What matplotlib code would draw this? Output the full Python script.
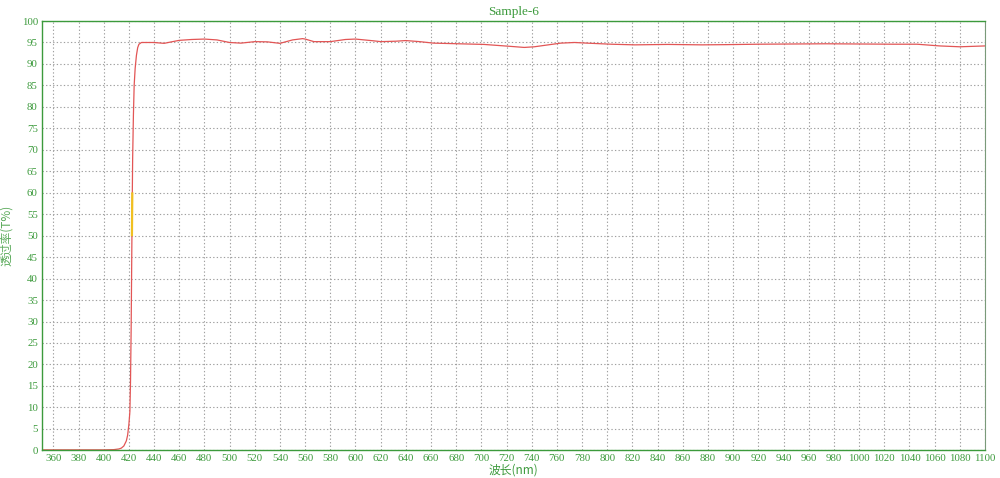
import numpy as np
import matplotlib
matplotlib.use("Agg")
import matplotlib.pyplot as plt

# wavelength (nm) / transmittance (%)
wavelength = [350, 380, 400, 408, 412, 414, 416, 418, 419, 420, 420.8, 421.3,
              421.8, 422.2, 422.6, 423.0, 423.6, 424.2, 425.0, 426.0, 427.0,
              428.0, 430.0, 434, 440, 448, 453, 460, 470, 480, 490, 500, 509,
              520, 530, 540, 550, 558, 560, 567, 580, 592, 600, 614, 620, 632,
              640, 651, 662, 682, 702, 723, 734, 742, 763, 774, 784, 803, 822,
              848, 875, 894, 920, 974, 1027, 1046, 1064, 1080, 1100]
transmit = [0.1, 0.1, 0.1, 0.15, 0.3, 0.5, 1.0, 2.2, 3.5, 6.0, 9.0, 16.0,
            28.0, 42.0, 56.0, 68.0, 78.0, 85.0, 89.0, 92.0, 93.8,
            94.6, 95.0, 95.0, 95.0, 94.8, 95.1, 95.5, 95.7, 95.8, 95.6, 95.0, 94.85,
            95.2, 95.15, 94.8, 95.6, 95.9, 95.8, 95.2, 95.2, 95.7, 95.8, 95.4, 95.2, 95.3,
            95.45, 95.2, 94.85, 94.7, 94.55, 94.1, 93.85, 94.0, 94.85, 95.0, 94.85, 94.6, 94.45,
            94.55, 94.45, 94.5, 94.6, 94.7, 94.6, 94.6, 94.2, 94.0, 94.2]
highlight_band = [50, 60]

x_ticks = list(range(360, 1101, 20))
y_ticks = list(range(0, 101, 5))

green = "#3c9a3c"
cjk = ["Noto Sans CJK SC", "DejaVu Sans"]

fig = plt.figure(figsize=(10, 4.78), dpi=100)
ax = fig.add_axes([0.042, 0.058, 0.943, 0.898])

x = np.array(wavelength)
y = np.array(transmit)
ax.plot(x, y, color="#e25555", lw=0.9)

# short yellow stretch of the curve between 50 and 60 %
xs = np.linspace(x[10], x[16], 200)
ys = np.interp(xs, x, y)
m = (ys >= highlight_band[0]) & (ys <= highlight_band[1])
ax.plot(xs[m], ys[m], color="#f0c020", lw=1.6)

ax.set_xlim(351, 1100)
ax.set_ylim(0, 100)
ax.set_xticks(x_ticks)
ax.set_yticks(y_ticks)
ax.tick_params(length=0, labelsize=7.8, labelcolor=green, pad=3)
for lab in ax.get_xticklabels() + ax.get_yticklabels():
    lab.set_family("Liberation Serif")

ax.grid(True, color="#a0a0a0", linestyle=(0, (1.2, 2)), lw=0.8)
for side in ["left", "bottom", "top"]:
    ax.spines[side].set_color(green)
    ax.spines[side].set_linewidth(1.0)
ax.spines["right"].set_color("#7a9a7a")

ax.set_title("Sample-6", color=green, fontsize=9.5, family="Liberation Serif", pad=4)
ax.set_xlabel("波长(nm)", color=green, fontsize=8.5, family=cjk, labelpad=0)
ax.set_ylabel("透过率(T%)", color="#5aaa5a", fontsize=8.5, family=cjk, labelpad=6)

fig.savefig("out.png", dpi=100)
